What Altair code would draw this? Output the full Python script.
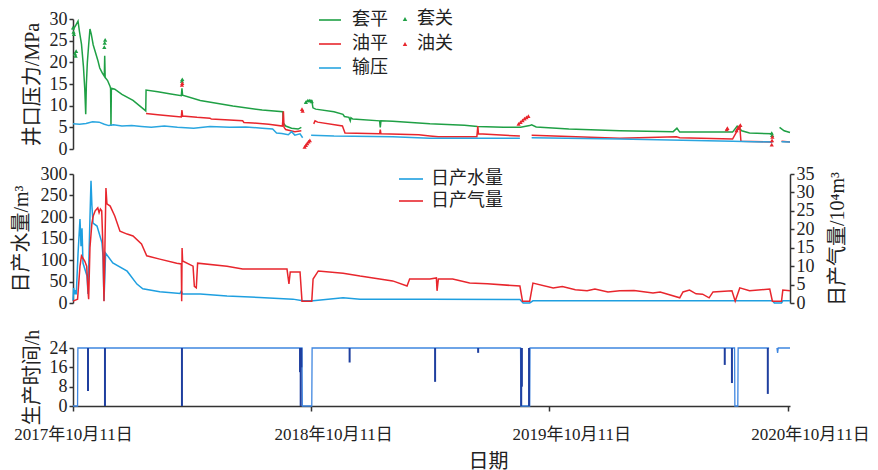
import altair as alt
import pandas as pd

START = pd.Timestamp("2017-10-11")

# ---------- top panel: wellhead pressure (MPa), x in days since 2017-10-11 ----------
CASING_DAY = [0, 4, 7.7, 10, 13, 16, 18, 19.5, 20.5, 22, 24, 26, 28, 31, 34, 38, 41, 45, 48, 48.6,
              49.3, 53, 56.7, 57.6, 58.2, 58.8, 64, 75, 92, 105, 111.5, 112, 130, 150, 166, 167, 168,
              195, 245, 290, 321.5, 322.2, 326, 335, 345, 350, 353, 355.6, 358, 362, 366, 367.8, 372,
              400, 413.8, 416, 423, 425, 426, 429, 470, 471, 472, 490, 547, 600, 620, 660, 686, 700,
              703, 710, 760, 838, 920, 925.7, 930, 1011, 1018, 1025, 1037, 1072.8, 1077, 1083, 1090, 1099]
CASING_MPA = [27.5, 28.5, 29.5, 27, 24.2, 19, 14, 8, 15, 20, 24, 27.7, 26.5, 24, 22.5, 20.5, 18.7,
              17.5, 16.8, 21.5, 16.5, 15.8, 14.5, 14, 5.3, 14, 13.8, 12.6, 11.2, 9.6, 8.8, 13.6, 13.2,
              12.7, 12.3, 14, 12.4, 11.2, 9.9, 9.0, 8.6, 6, 5.3, 4.8, 4.6, 5.0, None, 10.5, 11, 11.2,
              11.2, 9.5, 9.2, 8.6, 8.0, 7.5, 7.3, 6.5, 7.2, 6.9, 6.5, 5.0, 6.5, 6.4, 5.8, 5.5, 5.2, 5.0,
              5.0, 5.4, 5.6, 5.1, 4.6, 4.2, 4.0, 4.8, 3.9, 3.9, 5.3, 4.2, 3.7, 3.5, None, 5.0, 4.2, 3.8]

TUBING_DAY = [112, 130, 150, 166, 167, 168, 190, 210, 212, 240, 260, 262, 276, 300, 321, 322.5, 323.5,
              326, 340, 350, 353, 369, 371, 375, 413, 416.9, 470, 471, 472, 530, 547, 560, 619, 620.5,
              621.5, 685, 694, 703, 760, 838, 925, 930, 1011, 1022, 1023.8, 1072, 1078, 1086, 1099]
TUBING_MPA = [8.2, 7.9, 7.6, 7.4, 9.0, 7.6, 7.3, 7.1, 6.9, 6.7, 6.5, 6.1, 6.0, 5.7, 5.3, 8.7, 5.0, 4.5,
              4.0, 4.2, None, 5.8, 6.5, 6.2, 5.3, 3.7, 3.5, 4.5, 3.5, 3.3, 3.0, 2.8, 2.8, 5.3, 3.5, 3.0,
              None, 3.2, 2.9, 2.5, 2.8, 2.6, 2.3, 5.3, 1.8, 1.6, None, 1.8, 1.6]

PIPE_DAY = [0, 10, 20, 30, 40, 48, 55, 62, 75, 90, 105, 120, 140, 160, 185, 210, 240, 265, 290, 306,
            312, 320, 330, 335, 340, 348, 352, 360, 365, 400, 490, 547, 620, 685, 694, 703, 838, 1011,
            1072, 1078, 1086, 1099]
PIPE_MPA = [5.8, 5.7, 5.9, 6.3, 6.2, 5.7, 5.4, 5.6, 5.3, 5.4, 5.2, 5.0, 5.3, 5.0, 4.8, 5.2, 5.0, 5.1,
            4.8, 4.6, 3.7, 3.6, 3.3, 4.0, 3.2, 3.5, 2.6, None, 3.2, 3.0, 2.8, 2.5, 2.5, 2.5, None, 2.6,
            2.3, 1.8, 1.6, None, 1.7, 1.6]

CASING_SHUT_DAY = [0, 0.8, 1.5, 3, 4, 4.8, 48, 48.6, 49.3, 167, 167.5, 357, 360, 363, 366, 1071, 1071.6]
CASING_SHUT_MPA = [28, 27, 26.5, 22, 21.5, 22.6, 23.5, 24.5, 25.2, 15.7, 16.1, 10.8, 11.2, 11.2, 11.0, 3.7, 3.2]
TUBING_SHUT_DAY = [167, 167.5, 351, 352, 355, 357, 359, 361, 363, 683, 686, 689, 692, 695, 698,
                   1002, 1003, 1017, 1019, 1021, 1023, 1071, 1071.5, 1072]
TUBING_SHUT_MPA = [14.8, 15.2, 9.2, 8.8, 0.5, 0.9, 1.3, 1.7, 2.0, 5.8, 6.2, 6.6, 7.0, 7.3, 7.6,
                   4.5, 4.8, 4.3, 4.8, 5.2, 5.5, 1.0, 2.0, 2.8]

# ---------- middle panel: daily water (m3) and gas (10^4 m3) ----------
WATER_DAY = [0, 1, 2, 3, 4, 5, 7.7, 10.7, 12.3, 13.8, 15.3, 21.5, 23, 26, 27.6, 29, 30.7, 36.8, 44.4,
             46, 47.5, 50, 61, 83, 98, 107, 133, 164, 166, 168, 195, 236, 286, 337, 352, 368, 414, 440,
             547, 685, 690, 700, 705, 1072, 1075, 1086, 1088, 1099]
WATER_M3 = [5, 35, 25, 20, 30, 20, 114, 195, 132, 174, 93, 63, 21, 198, 284, 226, 186, 179, 140, 109,
            5, 116, 93, 74, 44, 33, 26, 22, 28, 21, 21, 16, 13, 9, 5, 5, 12, 9, 9, 8, 0, 0, 5, 5, 0, 0, 5, 5]

GAS_DAY = [0, 7, 10.7, 13, 18, 21, 23, 24, 26, 29, 31, 34, 38, 40, 42, 44, 46, 47.5, 50.5, 52, 57, 64,
           72, 83, 92, 105, 113, 133, 159, 166, 166.6, 167.2, 168, 184, 186, 189, 191, 236, 260, 328,
           331, 333, 348, 351, 366, 368, 376, 414, 440, 490, 512, 516, 547, 557, 558, 560, 582, 608,
           635, 685, 689, 700, 705, 736, 750, 770, 788, 800, 820, 838, 860, 889, 900, 930, 935, 945,
           955, 965, 975, 981, 1010, 1015, 1022, 1037, 1068, 1072, 1086, 1088, 1099]
GAS_E4M3 = [0.5, 1, 10, 12.8, 11.4, 10, 3.3, 1, 15, 21.7, 23.6, 25, 25.8, 24.5, 25.5, 25, 14.6, 0.5,
            31.2, 26.9, 26.3, 23.6, 19.5, 18.7, 18.2, 16, 12.8, 11.9, 10.8, 10.6, 0.5, 14.9, 11.4, 10,
            4.5, 4.1, 10.8, 10, 9.2, 9.2, 5.2, 8.4, 8.4, 0.5, 0.5, 6.5, 8.7, 8.1, 7.3, 6, 4.6, 6.5, 6.5,
            6.8, 3.3, 6.5, 6.5, 5.4, 5.2, 4.6, 0.5, 0.5, 5.4, 4.1, 4.5, 3.6, 3.3, 3.8, 3.0, 3.3, 3.4,
            2.7, 3.0, 1.4, 3.0, 3.5, 2.5, 2.4, 1.4, 3.0, 3.3, 0.5, 4.1, 3.3, 3.8, 0.5, 0.5, 3.5, 3.3]

# ---------- bottom panel: production hours ----------
HOURS_DAY = [0, 7, 7.5, 351, 351.5, 366, 366.5, 686, 686.5, 700, 700.5, 1014, 1014.5, 1019, 1019.5,
             1067, 1078, 1079, 1080, 1081, 1099]
HOURS_H = [0, 0, 24, 24, 0, 0, 24, 24, 0, 0, 24, 24, 0, 0, 24, 24, None, 24, 22, 24, 24]
DIP_DAY = [23, 49, 167, 348, 349, 350, 424, 555, 621, 687, 688, 699, 999, 1010, 1065]
DIP_LOW = [6.2, 0, 0, 14, 0, 16, 18, 10, 22, 0, 8, 0, 17, 9.5, 5]

TOP_NAMES = ["套平", "油平", "输压"]
TOP_COLORS = ["#1fa045", "#e8262d", "#2aa6e0"]
SHUT_NAMES = ["套关", "油关"]
SHUT_COLORS = ["#1fa045", "#e8262d"]
MID_NAMES = ["日产水量", "日产气量"]
MID_COLORS = ["#1e9fe0", "#e8262d"]
TICK_DATES = [(2017, 10, 11), (2018, 10, 11), (2019, 10, 11), (2020, 10, 11)]
P_TICKS = [0, 5, 10, 15, 20, 25, 30]
W_TICKS = [0, 50, 100, 150, 200, 250, 300]
G_TICKS = [0, 5, 10, 15, 20, 25, 30, 35]
H_TICKS = [0, 8, 16, 24]


def frame(days, vals, name, col="value"):
    d = pd.DataFrame({"day": days, col: pd.array(vals, dtype="Float64").astype(float)})
    d["date"] = (START + pd.to_timedelta(d["day"], unit="D")).dt.strftime("%Y-%m-%dT%H:%M:%SZ")
    d["series"] = name
    return d


top_df = pd.concat([frame(CASING_DAY, CASING_MPA, "套平"),
                    frame(TUBING_DAY, TUBING_MPA, "油平"),
                    frame(PIPE_DAY, PIPE_MPA, "输压")], ignore_index=True)
shut_df = pd.concat([frame(CASING_SHUT_DAY, CASING_SHUT_MPA, "套关"),
                     frame(TUBING_SHUT_DAY, TUBING_SHUT_MPA, "油关")], ignore_index=True)
water_df = frame(WATER_DAY, WATER_M3, "日产水量")
gas_df = frame(GAS_DAY, GAS_E4M3, "日产气量")
hours_df = frame(HOURS_DAY, HOURS_H, "生产时间")
dip_df = frame(DIP_DAY, DIP_LOW, "停产", col="low")
dip_df["high"] = 24

FONT = "Liberation Serif, Noto Sans CJK SC"
W = 717
TOP_H, MID_H, BOT_H, GAP = 130, 129, 78, 25

xscale = alt.Scale(type="utc", domain=[alt.DateTime(year=2017, month=10, date=11, utc=True),
                                       alt.DateTime(year=2020, month=10, date=14, utc=True)])
x_hidden = alt.X("date:T", scale=xscale, axis=None)

# top panel
p_axis = alt.Axis(title="井口压力/MPa", values=P_TICKS, titlePadding=7, labelOverlap=False)
p_scale = alt.Scale(domain=[0, 30])
top_lines = alt.Chart(top_df).mark_line(strokeWidth=1.5).encode(
    x=x_hidden,
    y=alt.Y("value:Q", scale=p_scale, axis=p_axis),
    color=alt.Color("series:N", scale=alt.Scale(domain=TOP_NAMES, range=TOP_COLORS),
                    legend=alt.Legend(title=None, orient="none", legendX=245, legendY=-11,
                                      symbolType="stroke", symbolSize=484, symbolStrokeWidth=1.6,
                                      labelOffset=10, rowPadding=3, padding=0)),
)
top_pts = alt.Chart(shut_df).mark_point(shape="triangle-up", filled=True, size=18, opacity=1).encode(
    x=x_hidden,
    y=alt.Y("value:Q", scale=p_scale, axis=p_axis),
    color=alt.Color("series:N", scale=alt.Scale(domain=SHUT_NAMES, range=SHUT_COLORS),
                    legend=alt.Legend(title=None, orient="none", legendX=323, legendY=-9,
                                      symbolType="triangle-up", symbolSize=20, labelOffset=3,
                                      rowPadding=7, padding=0)),
)
top = alt.layer(top_lines, top_pts).resolve_scale(color="independent").properties(width=W, height=TOP_H)

# middle panel (its legend is positioned in the outer chart's frame)
mid_color = alt.Color("series:N", scale=alt.Scale(domain=MID_NAMES, range=MID_COLORS),
                      legend=alt.Legend(title=None, orient="none", legendX=325,
                                        legendY=TOP_H + GAP - 8,
                                        symbolType="stroke", symbolSize=576, symbolStrokeWidth=1.6,
                                        labelOffset=7, rowPadding=0, padding=0))
water = alt.Chart(water_df).mark_line(strokeWidth=1.5).encode(
    x=x_hidden,
    y=alt.Y("value:Q", scale=alt.Scale(domain=[0, 300]),
            axis=alt.Axis(title="日产水量/m³", values=W_TICKS, titlePadding=9, labelOverlap=False)),
    color=mid_color,
)
gas = alt.Chart(gas_df).mark_line(strokeWidth=1.5).encode(
    x=x_hidden,
    y=alt.Y("value:Q", scale=alt.Scale(domain=[0, 35]),
            axis=alt.Axis(title="日产气量/10⁴m³", orient="right", values=G_TICKS, labelOverlap=False,
                          titleAngle=270, titleBaseline="top", titlePadding=13)),
    color=mid_color,
)
mid = alt.layer(water, gas).resolve_scale(y="independent").properties(width=W, height=MID_H)

# bottom panel (view is 78 px tall; the hours scale occupies its lower 58 px)
x_axis = alt.Axis(
    title="日期", titleX=415, titlePadding=9,
    values=[alt.DateTime(year=y, month=m, date=d, utc=True) for (y, m, d) in TICK_DATES],
    labelExpr="utcFormat(datum.value, '%Y年%m月%d日')",
    labelFlush=False, labelFontSize=17, labelPadding=15, tickSize=5,
    labelOffset={"condition": {"test": "utcyear(datum.value) > 2017", "value": 22}, "value": 0},
)
h_axis = alt.Axis(title="生产时间/h", values=H_TICKS, titlePadding=7, labelOverlap=False)
h_scale = alt.Scale(domain=[0, 24], range=[BOT_H, BOT_H - 58])
hours_line = alt.Chart(hours_df).mark_line(strokeWidth=1.3, color="#3f86e0").encode(
    x=alt.X("date:T", scale=xscale, axis=x_axis),
    y=alt.Y("value:Q", scale=h_scale, axis=h_axis),
)
hours_dips = alt.Chart(dip_df).mark_rule(strokeWidth=2, color="#1f3f9f").encode(
    x=alt.X("date:T", scale=xscale, axis=x_axis),
    y=alt.Y("low:Q", scale=h_scale, axis=h_axis),
    y2="high:Q",
)
bot = alt.layer(hours_line, hours_dips).properties(width=W, height=BOT_H)

chart = alt.vconcat(top, mid, bot, spacing=GAP, bounds="flush").properties(
    padding={"left": 3, "top": 0, "right": 0, "bottom": 0}
).configure_axis(
    labelFont=FONT, labelFontSize=18, labelColor="#222", titleFont=FONT, titleFontSize=20,
    titleFontWeight="normal", titleColor="#222", domainColor="#333", tickColor="#333",
    domainWidth=1.5, tickWidth=1.5, tickSize=4, labelPadding=2, grid=False, labelOverlap=False,
).configure_legend(
    labelFont=FONT, labelFontSize=18, labelColor="#222",
).configure_view(strokeWidth=0)

chart.save("out.html", embed_options={"renderer": "svg", "actions": False})
